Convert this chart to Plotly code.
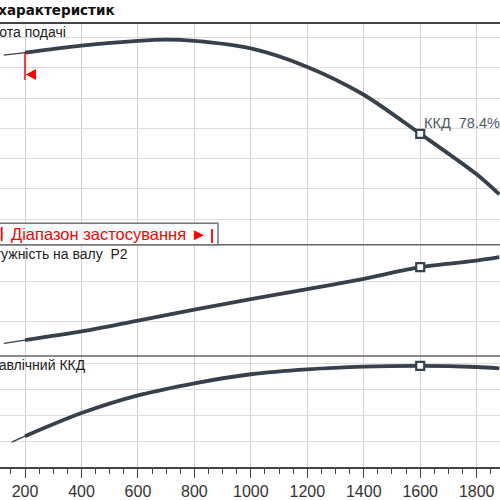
"""Pump characteristic curves: head, shaft power P2, hydraulic efficiency."""
import plotly.graph_objects as go
from plotly.subplots import make_subplots

# Flow rate Q and curve values
flow = [125, 200, 400, 600, 700, 800, 1000, 1200, 1400, 1600, 1800, 1880]
head = [54.2, 55.0, 57.3, 58.9, 59.3, 58.9, 56.4, 50.3, 41.1, 28.2, 14.8, 8.2]

power_flow = [125, 200, 400, 600, 800, 1000, 1200, 1400, 1600, 1800, 1880]
power = [173.5, 177.6, 188.2, 201.6, 215.0, 227.8, 240.0, 252.8, 267.1, 275.1, 279.3]

eff_flow = [153, 200, 400, 600, 800, 1000, 1200, 1400, 1600, 1800, 1880]
eff = [19.3, 23.9, 41.8, 55.5, 64.9, 71.9, 75.7, 77.8, 78.4, 77.5, 76.5]

x_ticks = [200, 400, 600, 800, 1000, 1200, 1400, 1600, 1800]
range_start = 200   # start of application range
bep_flow = 1600     # duty point
bep_eff = 78.4

LINE = "#36414c"
GRID = "#dcdcdc"
RED = "#ff0000"
TEXT = "#222222"

W, H = 500, 500
TOP, BOTTOM = 22.7, 469.3
PLOT_H = BOTTOM - TOP


def yp(px):
    """pixel row -> paper y"""
    return (BOTTOM - px) / PLOT_H


fig = make_subplots(rows=3, cols=1, shared_xaxes=True, vertical_spacing=0)

curves = [
    (1, flow, head),
    (2, power_flow, power),
    (3, eff_flow, eff),
]
for row, q, v in curves:
    lead = [i for i, x in enumerate(q) if x <= range_start]
    main = [i for i, x in enumerate(q) if x >= range_start]
    fig.add_trace(go.Scatter(
        x=[q[i] for i in lead], y=[v[i] for i in lead], mode="lines",
        line=dict(color=LINE, width=1.4), showlegend=False, hoverinfo="skip",
    ), row=row, col=1)
    fig.add_trace(go.Scatter(
        x=[q[i] for i in main], y=[v[i] for i in main], mode="lines",
        line=dict(color=LINE, width=3.8, shape="spline", smoothing=0.8),
        showlegend=False, hoverinfo="skip",
    ), row=row, col=1)
    k = q.index(bep_flow)
    fig.add_trace(go.Scatter(
        x=[q[k]], y=[v[k]], mode="markers",
        marker=dict(symbol="square", size=8, color="white", line=dict(color=LINE, width=2.2)),
        showlegend=False, hoverinfo="skip",
    ), row=row, col=1)

axis_common = dict(showgrid=True, gridcolor=GRID, gridwidth=1.2, zeroline=False,
                   showline=False, ticks="", showticklabels=False)
fig.update_yaxes(**axis_common)
fig.update_yaxes(range=[-8.44, 64.8], dtick=10, tick0=0, domain=[yp(245.7), 1], row=1, col=1)
fig.update_yaxes(range=[158.0, 294.6], dtick=50, tick0=0, domain=[yp(357.7), yp(245.7)], row=2, col=1)
fig.update_yaxes(range=[0, 86], dtick=20, tick0=0, domain=[0, yp(357.7)], row=3, col=1)

fig.update_xaxes(range=[111.4, 1882.6], tickvals=x_ticks, showgrid=True, gridcolor="#d2d2d2",
                 gridwidth=1.2, zeroline=False)
fig.update_xaxes(showticklabels=False, ticks="", row=1, col=1)
fig.update_xaxes(showticklabels=False, ticks="", row=2, col=1)
fig.update_xaxes(
    showticklabels=True, ticks="outside", ticklen=9, tickwidth=1.2, tickcolor="#444",
    showline=True, linecolor="#444", linewidth=1.5,
    minor=dict(ticks="outside", dtick=50, tick0=0, ticklen=5, tickwidth=1.2, tickcolor="#444",
               showgrid=False),
    tickfont=dict(family="Liberation Sans Narrow, Arial Narrow, Liberation Sans", size=16, color="#333"),
    row=3, col=1,
)

shapes = [
    dict(type="line", xref="paper", yref="paper", x0=0, x1=1, y0=1, y1=1,
         line=dict(color="#444", width=2)),
    dict(type="line", xref="paper", yref="paper", x0=0, x1=1, y0=yp(245.7), y1=yp(245.7),
         line=dict(color="#666", width=1.5)),
    dict(type="line", xref="paper", yref="paper", x0=0, x1=1, y0=yp(357.7), y1=yp(357.7),
         line=dict(color="#666", width=1.5)),
    # application range box
    dict(type="rect", xref="paper", yref="paper", x0=-0.05, x1=218 / W, y0=yp(245.7), y1=yp(224),
         fillcolor="white", line=dict(color="#777", width=1.5), layer="above"),
    dict(type="line", xref="paper", yref="paper", x0=1.7 / W, x1=1.7 / W, y0=yp(242), y1=yp(228),
         line=dict(color=RED, width=1.8)),
    dict(type="line", xref="paper", yref="paper", x0=212 / W, x1=212 / W, y0=yp(244), y1=yp(230),
         line=dict(color=RED, width=1.8)),
    # range start marker on head curve
    dict(type="line", xref="x", yref="y", x0=range_start, x1=range_start,
         y0=head[flow.index(range_start)], y1=46.0, line=dict(color=RED, width=1.5)),
    dict(type="path", xref="x", yref="y",
         path=f"M {range_start + 3},47.8 L {range_start + 39},49.6 L {range_start + 39},46.0 Z",
         fillcolor=RED, line=dict(color=RED, width=0)),
]

label_font = dict(family="Liberation Sans, Arial", size=14, color=TEXT)
annotations = [
    dict(text="<b>Графік характеристик</b>", xref="paper", yref="paper", x=117 / W, y=yp(10),
         xanchor="right", yanchor="middle", showarrow=False,
         font=dict(family="DejaVu Sans", size=13.5, color="#111")),
    dict(text="Висота подачі", xref="paper", yref="paper", x=68 / W, y=yp(31.5),
         xanchor="right", yanchor="middle", showarrow=False, font=label_font),
    dict(text="Потужність на валу  P2", xref="paper", yref="paper", x=130 / W, y=yp(255.5),
         xanchor="right", yanchor="middle", showarrow=False, font=label_font),
    dict(text="Гідравлічний ККД", xref="paper", yref="paper", x=88 / W, y=yp(366.5),
         xanchor="right", yanchor="middle", showarrow=False, font=label_font),
    dict(text="Діапазон застосування ►", xref="paper", yref="paper", x=209 / W, y=yp(235),
         xanchor="right", yanchor="middle", showarrow=False,
         font=dict(family="Liberation Sans, Arial", size=16.5, color=RED)),
    dict(text=f"ККД  {bep_eff}%", xref="x", yref="y", x=bep_flow, y=head[flow.index(bep_flow)],
         xanchor="left", yanchor="bottom", xshift=2, yshift=1, showarrow=False,
         font=dict(family="Liberation Sans, Arial", size=14.5, color="#505a64")),
]

fig.update_layout(
    width=W, height=H,
    margin=dict(l=0, r=0, t=TOP, b=H - BOTTOM, pad=0),
    paper_bgcolor="white", plot_bgcolor="white",
    shapes=shapes, annotations=annotations,
    showlegend=False,
)

# page body has an 8px default margin; drop it so the figure fills the window
fig.write_html("out.html", config={"displayModeBar": False},
               post_script="document.body.style.margin='0';")
